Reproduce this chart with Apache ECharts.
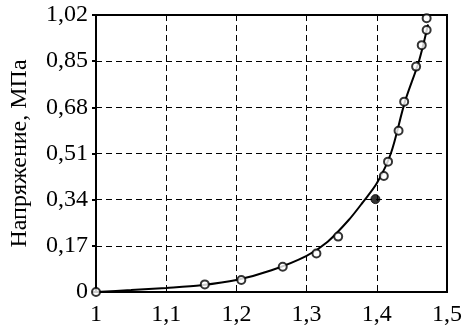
<!DOCTYPE html>
<html><head><meta charset="utf-8">
<script src="https://cdn.jsdelivr.net/npm/echarts@6/dist/echarts.min.js"></script>
<style>html,body{margin:0;padding:0;background:#fff}#c{width:472px;height:330px}</style>
</head><body><div id="c"></div>
<script>
const xTicks = [1, 1.1, 1.2, 1.3, 1.4, 1.5];
const yTicks = [0, 0.17, 0.34, 0.51, 0.68, 0.85, 1.02];
const pointX = [1.0, 1.155, 1.207, 1.266, 1.314, 1.345, 1.410, 1.416, 1.431, 1.439, 1.456, 1.464, 1.471, 1.471];
const pointY = [0.0, 0.028, 0.044, 0.093, 0.142, 0.204, 0.427, 0.480, 0.594, 0.701, 0.830, 0.909, 0.965, 1.008];
const filledX = [1.398];
const filledY = [0.342];
const curveX = [1.0, 1.05, 1.1, 1.15, 1.2, 1.25, 1.3, 1.33, 1.36, 1.38, 1.40, 1.42, 1.44, 1.46, 1.473];
const curveY = [0.0, 0.007, 0.015, 0.025, 0.044, 0.08, 0.133, 0.185, 0.265, 0.33, 0.40, 0.51, 0.70, 0.85, 0.985];

const fmt = v => {
  const r = Math.round(v * 100) / 100;
  return (r === 0 ? '0' : String(r).replace('.', ','));
};
const chart = echarts.init(document.getElementById('c'));
const font = 'Liberation Serif';
chart.setOption({
  animation: false,
  grid: {left: 94, right: 25, top: 15, bottom: 38, show: true, borderColor: '#000', borderWidth: 2},
  xAxis: {
    type: 'value', min: 1, max: 1.5, interval: 0.1,
    axisLine: {show: false}, axisTick: {show: false},
    axisLabel: {color: '#000', fontFamily: font, fontSize: 24, margin: 11, formatter: fmt},
    splitLine: {show: true, lineStyle: {color: '#000', type: [6, 4], width: 1}}
  },
  yAxis: {
    type: 'value', min: 0, max: 1.02, interval: 0.17,
    name: 'Напряжение, МПа', nameLocation: 'middle', nameGap: 64,
    nameTextStyle: {color: '#000', fontFamily: font, fontSize: 24},
    axisLine: {show: false}, axisTick: {show: true, length: 4, lineStyle: {color: '#000', width: 2}},
    axisLabel: {color: '#000', fontFamily: font, fontSize: 24, margin: 8, formatter: fmt},
    splitLine: {show: true, lineStyle: {color: '#000', type: [6, 4], width: 1}}
  },
  series: [
    {type: 'line', smooth: 0.3, showSymbol: false, data: curveX.map((x, i) => [x, curveY[i]]),
     lineStyle: {color: '#000', width: 2}, z: 2},
    {type: 'scatter', symbol: 'circle', symbolSize: 8, data: pointX.map((x, i) => [x, pointY[i]]),
     itemStyle: {color: '#fff', borderColor: '#000', borderWidth: 2}, z: 3},
    {type: 'scatter', symbol: 'circle', symbolSize: 9, data: filledX.map((x, i) => [x, filledY[i]]),
     itemStyle: {color: '#000', borderColor: '#000', borderWidth: 1}, z: 3}
  ]
});
</script></body></html>
